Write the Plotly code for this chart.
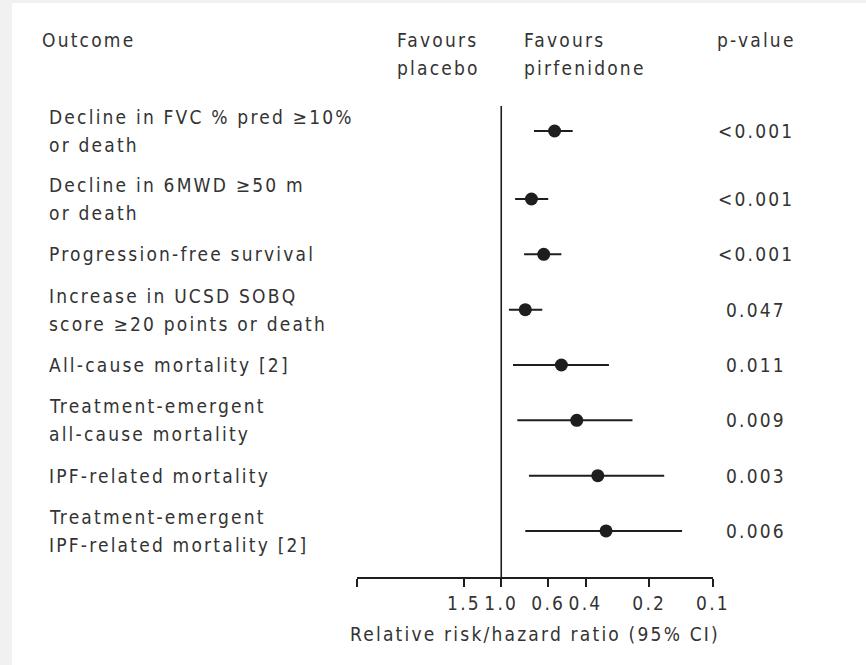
import plotly.graph_objects as go
import math

# ---- data ----
outcomes = [
    ["Decline in FVC % pred ≥10%", "or death"],
    ["Decline in 6MWD ≥50 m", "or death"],
    ["Progression-free survival"],
    ["Increase in UCSD SOBQ", "score ≥20 points or death"],
    ["All-cause mortality [2]"],
    ["Treatment-emergent", "all-cause mortality"],
    ["IPF-related mortality"],
    ["Treatment-emergent", "IPF-related mortality [2]"],
]
ratio = [0.56, 0.72, 0.63, 0.77, 0.52, 0.44, 0.35, 0.32]
ci_low = [0.46, 0.60, 0.52, 0.64, 0.31, 0.24, 0.17, 0.14]
ci_high = [0.70, 0.86, 0.78, 0.92, 0.88, 0.84, 0.74, 0.77]
p_values = ["<0.001", "<0.001", "<0.001", "0.047", "0.011", "0.009", "0.003", "0.006"]
tick_vals = [1.5, 1.0, 0.6, 0.4, 0.2, 0.1]
tick_text = ["1.5", "1.0", "0.6", "0.4", "0.2", "0.1"]

# ---- layout constants ----
W, H = 866, 665
ML, MR, MT, MB = 357, 153, 106, 88
PW, PH = W - ML - MR, H - MT - MB
row_pos = [-1.229, 0, 1, 2, 3, 4, 5, 6]
y_range = [6.832, -1.681]
x_max = 4.8
FONT = "DejaVu Sans Condensed, DejaVu Sans"
TXT = "#333333"
INK = "#1e1e1e"
FS = 19
LS = "2.2px"


def sp(t):
    return '<span style="letter-spacing:%s">%s</span>' % (LS, t)


def px_x(px):
    return (px - ML) / PW


def px_y(py):
    return (H - MB - py) / PH


fig = go.Figure()

# reference line at 1.0
fig.add_trace(go.Scatter(
    x=[1.0, 1.0], y=y_range, mode="lines",
    line=dict(color=INK, width=1.6), cliponaxis=False,
    hoverinfo="skip", showlegend=False))

# estimates with CIs
fig.add_trace(go.Scatter(
    x=ratio, y=row_pos, mode="markers",
    marker=dict(size=13, color=INK),
    error_x=dict(type="data", symmetric=False,
                 array=[h - r for h, r in zip(ci_high, ratio)],
                 arrayminus=[r - l for r, l in zip(ratio, ci_low)],
                 color=INK, thickness=2, width=0),
    cliponaxis=False, showlegend=False))

ann = []
# row labels
for lines, y in zip(outcomes, row_pos):
    n = len(lines)
    for i, t in enumerate(lines):
        shift = 0 if n == 1 else (14 if i == 0 else -14)
        ann.append(dict(x=px_x(47), xref="paper", y=y, yref="y", yshift=shift,
                        text=sp(t), showarrow=False, xanchor="left", yanchor="middle",
                        font=dict(family=FONT, size=FS, color=TXT)))
# p-values
for p, y in zip(p_values, row_pos):
    ann.append(dict(x=px_x(756), xref="paper", y=y, yref="y",
                    text=sp(p), showarrow=False, xanchor="center", yanchor="middle",
                    font=dict(family=FONT, size=FS, color=TXT)))
# headers
headers = [("Outcome", 40, 40), ("Favours", 395, 40), ("placebo", 395, 68),
           ("Favours", 522, 40), ("pirfenidone", 522, 68), ("p-value", 715, 40)]
for t, hx, hy in headers:
    ann.append(dict(x=px_x(hx), xref="paper", y=px_y(hy), yref="paper",
                    text=sp(t), showarrow=False, xanchor="left", yanchor="middle",
                    font=dict(family=FONT, size=FS, color=TXT)))

fig.update_layout(
    width=W, height=H,
    margin=dict(l=ML, r=MR, t=MT, b=MB),
    paper_bgcolor="#f1f1f1", plot_bgcolor="rgba(0,0,0,0)",
    annotations=ann,
    shapes=[dict(type="rect", xref="paper", yref="paper",
                 x0=px_x(12), x1=px_x(866), y0=px_y(666), y1=px_y(3),
                 fillcolor="white", line=dict(width=0), layer="below")],
    xaxis=dict(type="log", range=[math.log10(x_max), -1],
               tickvals=[x_max] + tick_vals, ticktext=[""] + [sp(t) for t in tick_text],
               ticks="outside", ticklen=8, tickwidth=1.5, tickcolor=INK,
               showline=True, linewidth=1.6, linecolor=INK,
               showgrid=False, zeroline=False,
               tickfont=dict(family=FONT, size=FS, color=TXT),
               title=dict(text=sp("Relative risk/hazard ratio (95% CI)"), standoff=15,
                          font=dict(family=FONT, size=FS, color=TXT))),
    yaxis=dict(range=y_range, visible=False, showgrid=False, zeroline=False),
)

fig.write_html("out.html")
